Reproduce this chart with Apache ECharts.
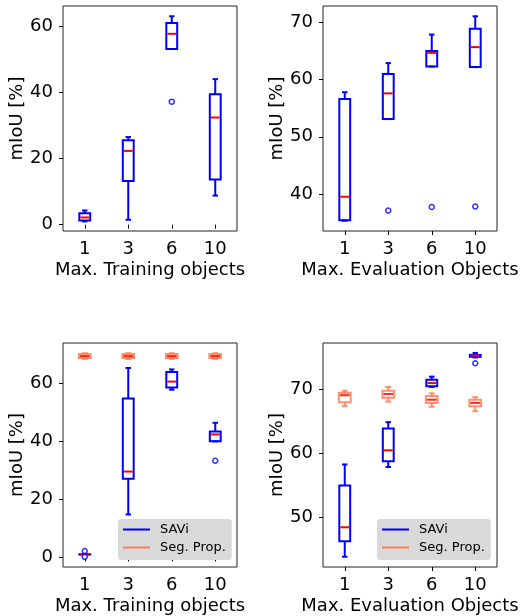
<!DOCTYPE html>
<html>
<head>
<meta charset="utf-8">
<script src="https://cdn.jsdelivr.net/npm/echarts@6/dist/echarts.min.js"></script>
<style>
html,body{margin:0;padding:0;background:#fff;}
#c{width:521px;height:616px;}
</style>
</head>
<body>
<div id="c"></div>
<script>
// ---- data ----
const categories = ['1', '3', '6', '10'];
// each box: [min, q1, median, q3, max]
const trainTopSAVi = [
  [1.0, 1.3, 2.2, 3.5, 4.3],
  [1.5, 13.2, 22.3, 25.5, 26.5],
  [53.1, 53.1, 57.7, 61.0, 63.0],
  [8.8, 13.7, 32.4, 39.4, 44.0]
];
const trainTopOutliers = [[2, 37.2]];

const evalTopSAVi = [
  [35.3, 35.4, 39.5, 56.6, 57.8],
  [53.1, 53.1, 57.6, 61.0, 62.9],
  [62.3, 62.3, 64.7, 65.0, 67.9],
  [62.2, 62.2, 65.7, 68.9, 71.1]
];
const evalTopOutliers = [[1, 37.1], [2, 37.7], [3, 37.8]];

const trainBotSAVi = [
  [1.0, 1.0, 1.0, 1.1, 1.1],
  [14.8, 27.1, 29.6, 54.8, 65.3],
  [57.8, 58.6, 60.6, 63.9, 64.8],
  [40.0, 40.0, 42.4, 43.4, 46.4]
];
const trainBotOutliers = [[0, 2.2], [0, 0.2], [3, 33.3]];
const trainBotSeg = [
  [68.4, 68.7, 69.4, 70.1, 70.4],
  [68.4, 68.7, 69.4, 70.1, 70.4],
  [68.4, 68.7, 69.4, 70.1, 70.4],
  [68.4, 68.7, 69.4, 70.1, 70.4]
];

const evalBotSAVi = [
  [43.9, 46.3, 48.5, 55.0, 58.3],
  [57.9, 58.8, 60.5, 63.9, 64.9],
  [70.4, 70.5, 71.0, 71.5, 72.0],
  [75.0, 75.1, 75.3, 75.4, 75.7]
];
const evalBotOutliers = [[3, 74.1]];
const evalBotSeg = [
  [67.4, 68.0, 69.1, 69.5, 69.8],
  [68.1, 68.7, 69.3, 69.8, 70.4],
  [67.3, 67.9, 68.4, 69.0, 69.4],
  [66.6, 67.4, 67.9, 68.4, 68.8]
];

const yTicksTrainTop = [0, 20, 40, 60];
const yTicksEvalTop = [40, 50, 60, 70];
const yTicksTrainBot = [0, 20, 40, 60];
const yTicksEvalBot = [50, 60, 70];

const yRanges = [[-1.9, 66.1], [33.5, 72.9], [-3.3, 73.9], [42.3, 77.25]];

const xNames = ['Max. Training objects', 'Max. Evaluation Objects', 'Max. Training objects', 'Max. Evaluation Objects'];
const yName = 'mIoU [%]';
const legendNames = ['SAVi', 'Seg. Prop.'];

// ---- styles ----
const BLUE = '#0000ff';
const RED = '#ff0000';
const CORAL = '#ff7f50';
const FONT = 'DejaVu Sans';

const grids = [
  {left: 63, top: 6, width: 174, height: 225},
  {left: 323, top: 6, width: 174, height: 225},
  {left: 63, top: 343, width: 174, height: 224},
  {left: 323, top: 343, width: 174, height: 224}
];

function toRows(boxes) {
  return boxes.map((b, i) => [i].concat(b));
}

function boxRenderer(color, medColor, lw, widthFrac, opacity) {
  return function (params, api) {
    const x = api.value(0);
    const pMin = api.coord([x, api.value(1)]);
    const pQ1 = api.coord([x, api.value(2)]);
    const pMed = api.coord([x, api.value(3)]);
    const pQ3 = api.coord([x, api.value(4)]);
    const pMax = api.coord([x, api.value(5)]);
    const band = api.size([1, 0])[0];
    const hw = band * widthFrac / 2;
    const cw = hw / 2;
    const cx = pMed[0];
    const st = {stroke: color, lineWidth: lw, fill: null, opacity: opacity};
    return {
      type: 'group',
      children: [
        {type: 'line', shape: {x1: cx, y1: pMin[1], x2: cx, y2: pQ1[1]}, style: st},
        {type: 'line', shape: {x1: cx, y1: pQ3[1], x2: cx, y2: pMax[1]}, style: st},
        {type: 'line', shape: {x1: cx - cw, y1: pMin[1], x2: cx + cw, y2: pMin[1]}, style: st},
        {type: 'line', shape: {x1: cx - cw, y1: pMax[1], x2: cx + cw, y2: pMax[1]}, style: st},
        {type: 'rect', shape: {x: cx - hw, y: pQ3[1], width: 2 * hw, height: pQ1[1] - pQ3[1]}, style: st},
        {type: 'line', shape: {x1: cx - hw + 1, y1: pMed[1], x2: cx + hw - 1, y2: pMed[1]}, style: {stroke: medColor, lineWidth: lw, opacity: opacity}}
      ]
    };
  };
}

function boxSeries(name, idx, boxes, color, widthFrac, z, opacity) {
  return {
    type: 'custom',
    name: name,
    xAxisIndex: idx,
    yAxisIndex: idx,
    renderItem: boxRenderer(color, RED, 2, widthFrac, opacity),
    encode: {x: 0, y: [1, 2, 3, 4, 5]},
    itemStyle: {color: color},
    data: toRows(boxes),
    z: z,
    silent: true
  };
}

function outlierSeries(name, idx, pts) {
  return {
    type: 'scatter',
    name: name,
    xAxisIndex: idx,
    yAxisIndex: idx,
    symbol: 'circle',
    symbolSize: 5,
    itemStyle: {color: '#ffffff', borderColor: BLUE, borderWidth: 1.5},
    data: pts,
    z: 5,
    silent: true
  };
}

const yTickSets = [yTicksTrainTop, yTicksEvalTop, yTicksTrainBot, yTicksEvalBot];

const xAxes = grids.map((g, i) => ({
  type: 'category',
  gridIndex: i,
  data: categories,
  boundaryGap: true,
  axisLine: {show: false},
  axisTick: {show: true, alignWithLabel: true, length: 4, lineStyle: {color: '#000', width: 1}},
  axisLabel: {color: '#000', fontFamily: FONT, fontSize: 18, margin: 9},
  splitLine: {show: false},
  name: xNames[i],
  nameLocation: 'middle',
  nameGap: 30,
  nameTextStyle: {color: '#000', fontFamily: FONT, fontSize: 18}
}));

const yAxes = grids.map((g, i) => ({
  type: 'value',
  gridIndex: i,
  min: yRanges[i][0],
  max: yRanges[i][1],
  axisLine: {show: false},
  axisTick: {show: true, length: 4, customValues: yTickSets[i], lineStyle: {color: '#000', width: 1}},
  axisLabel: {color: '#000', fontFamily: FONT, fontSize: 18, margin: 10, customValues: yTickSets[i]},
  splitLine: {show: false},
  name: yName,
  nameLocation: 'middle',
  nameRotate: 90,
  nameGap: 35,
  nameTextStyle: {color: '#000', fontFamily: FONT, fontSize: 18}
}));

const series = [
  boxSeries('SAVi', 0, trainTopSAVi, BLUE, 0.25, 3, 1),
  outlierSeries('SAVi', 0, trainTopOutliers),
  boxSeries('SAVi', 1, evalTopSAVi, BLUE, 0.25, 3, 1),
  outlierSeries('SAVi', 1, evalTopOutliers),
  boxSeries('Seg. Prop.', 2, trainBotSeg, CORAL, 0.27, 2, 0.85),
  boxSeries('SAVi', 2, trainBotSAVi, BLUE, 0.25, 3, 1),
  outlierSeries('SAVi', 2, trainBotOutliers),
  boxSeries('Seg. Prop.', 3, evalBotSeg, CORAL, 0.27, 2, 0.85),
  boxSeries('SAVi', 3, evalBotSAVi, BLUE, 0.25, 3, 1),
  outlierSeries('SAVi', 3, evalBotOutliers)
];

function makeLegend(left) {
  return {
    left: left,
    top: 519,
    orient: 'vertical',
    backgroundColor: '#d9d9d9',
    borderRadius: 3,
    padding: [4, 6, 6, 5],
    itemGap: 5,
    itemWidth: 27,
    itemHeight: 2,
    selectedMode: false,
    textStyle: {color: '#000', fontFamily: FONT, fontSize: 13, padding: [0, 0, 0, 5]},
    data: [
      {name: legendNames[0], icon: 'rect', itemStyle: {color: BLUE, borderWidth: 0}},
      {name: legendNames[1], icon: 'rect', itemStyle: {color: CORAL, borderWidth: 0}}
    ]
  };
}

const option = {
  animation: false,
  backgroundColor: '#ffffff',
  grid: grids.map(g => Object.assign({show: true, borderColor: '#222', borderWidth: 1, backgroundColor: 'transparent', containLabel: false}, g)),
  xAxis: xAxes,
  yAxis: yAxes,
  legend: [makeLegend(118), makeLegend(377)],
  series: series
};

const chart = echarts.init(document.getElementById('c'), null, {renderer: 'canvas'});
chart.setOption(option);
</script>
</body>
</html>
